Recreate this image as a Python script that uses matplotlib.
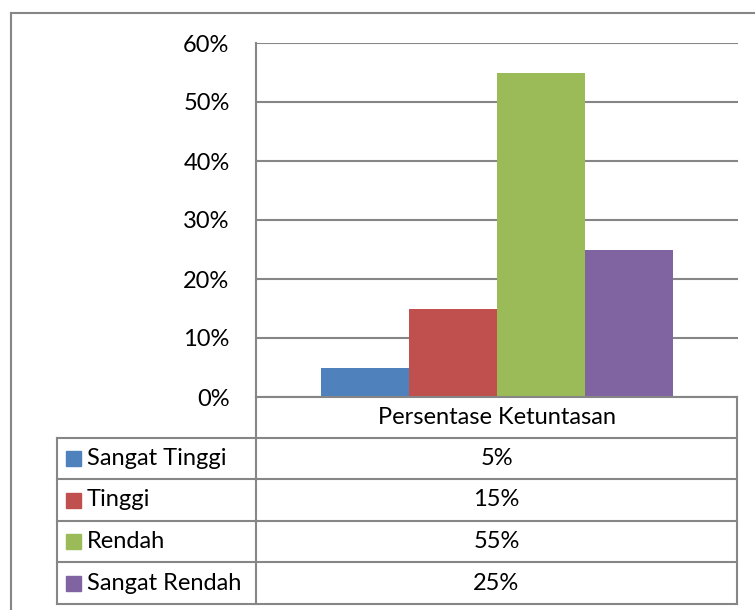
import matplotlib
matplotlib.use("Agg")
import matplotlib.pyplot as plt
from matplotlib.lines import Line2D
from matplotlib.patches import Rectangle
from matplotlib.ticker import PercentFormatter

plt.rcParams['font.family'] = ['Lato', 'DejaVu Sans']

categories = ["Sangat Tinggi", "Tinggi", "Rendah", "Sangat Rendah"]
values = [5, 15, 55, 25]
colors = ["#4f81bd", "#c0504d", "#9bbb59", "#8064a2"]
group_label = "Persentase Ketuntasan"
yticks = [0, 10, 20, 30, 40, 50, 60]

W, H = 755, 610
GRAY = "#868686"
fig = plt.figure(figsize=(W / 100, H / 100), dpi=100)


def fx(px):
    return px / W


def fy(py):
    return 1 - py / H


def hline(y, x0, x1):
    fig.add_artist(Line2D([fx(x0), fx(x1)], [fy(y), fy(y)], color=GRAY, lw=1.5,
                          transform=fig.transFigure))


def vline(x, y0, y1):
    fig.add_artist(Line2D([fx(x), fx(x)], [fy(y0), fy(y1)], color=GRAY, lw=1.5,
                          transform=fig.transFigure))


# outer chart border (cut off at right and bottom)
hline(13, 11, 755)
vline(11, 13, 610)

# plot area
L, R, T, B = 256, 738, 43, 397
ax = fig.add_axes([fx(L), fy(B), fx(R) - fx(L), fy(T) - fy(B)])
n = len(values)
bw = 88 / (R - L)
start = 0.5 - n * bw / 2
for i, (v, c) in enumerate(zip(values, colors)):
    ax.bar(start + (i + 0.5) * bw, v, width=bw, color=c, zorder=3)
ax.set_xlim(0, 1)
ax.set_ylim(0, 60)
ax.set_yticks(yticks)
ax.yaxis.set_major_formatter(PercentFormatter(decimals=0))
ax.grid(axis='y', color=GRAY, lw=1.5)
ax.set_xticks([])
for s in ['top', 'right', 'bottom']:
    ax.spines[s].set_visible(False)
ax.spines['left'].set_color(GRAY)
ax.spines['left'].set_linewidth(1.5)
fs = 17
ax.tick_params(axis='y', length=0, pad=19, labelsize=fs)

# data table
rows = [438, 479, 521, 562, 604]
TL, TR = 57, 737
hline(B, L, TR)
for y in rows:
    hline(y, TL, TR)
vline(L, B, rows[-1])
vline(TR, B, rows[-1])
vline(TL, rows[0], rows[-1])
fig.text(fx((L + TR) / 2), fy((B + rows[0]) / 2), group_label, ha='center', va='center',
         fontsize=fs)
for i, (cat, v, c) in enumerate(zip(categories, values, colors)):
    yc = (rows[i] + rows[i + 1]) / 2
    fig.add_artist(Rectangle((fx(66), fy(yc + 7.5)), fx(15), 15 / H, color=c,
                             transform=fig.transFigure))
    fig.text(fx(87), fy(yc), cat, ha='left', va='center', fontsize=fs)
    fig.text(fx((L + TR) / 2), fy(yc), f"{v}%", ha='center', va='center', fontsize=fs)

fig.savefig("out.png", dpi=100)
